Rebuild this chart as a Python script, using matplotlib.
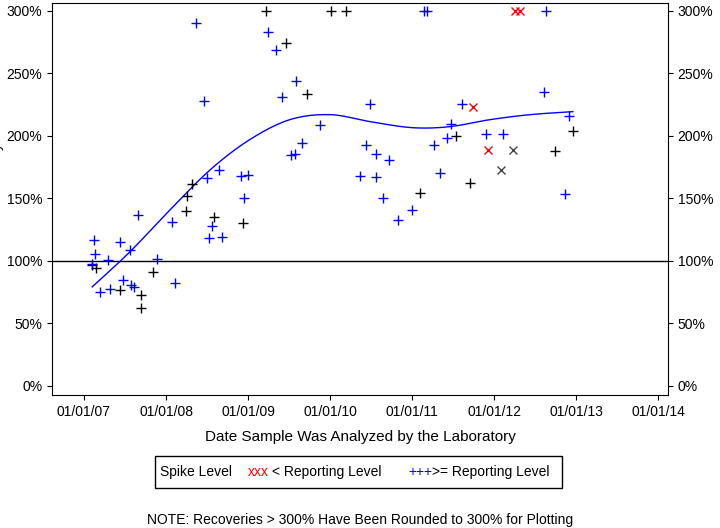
import matplotlib
matplotlib.use("Agg")
import matplotlib.pyplot as plt
from matplotlib.patches import Rectangle
import numpy as np
plt.rcParams['font.family'] = 'Liberation Sans'

blue_x = [2007.10,2007.12,2007.13,2007.20,2007.29,2007.32,2007.44,2007.48,2007.56,2007.57,2007.61,2007.66,2007.89,2008.11,2008.07,2008.37,2008.46,2008.50,2008.52,2008.56,2008.65,2008.68,2008.91,2008.95,2009.00,2009.24,2009.34,2009.41,2009.52,2009.57,2009.59,2009.66,2009.88,2010.37,2010.44,2010.49,2010.56,2010.56,2010.65,2010.72,2010.83,2011.00,2011.15,2011.18,2011.27,2011.34,2011.43,2011.48,2011.61,2011.90,2012.11,2012.63,2012.61,2012.87,2012.91]
blue_y = [97.6,116.8,105.6,75.2,100.8,77.6,115.2,84.8,108.8,80.8,79.2,136.8,101.6,82.4,131.2,290.4,228,166.4,118.4,128,172.8,119.2,168,150.4,168.8,283.2,268.8,231.2,184.8,185.6,244,194.4,208.8,168,192.8,225.6,185.6,167.2,150.4,180.8,132.8,140.8,300,300,192.8,170.4,198.4,209.6,225.6,201.6,201.6,300,235.2,153.6,216]
black_x = [2007.10,2007.15,2007.44,2007.70,2007.70,2007.84,2008.24,2008.26,2008.32,2008.59,2008.94,2009.22,2009.46,2009.72,2010.01,2010.20,2011.10,2011.54,2011.70,2012.74,2012.96]
black_y = [96.8,94.4,76.8,72.8,62.4,91.2,140,152,161.6,135.2,130.4,300,274.4,233.6,300,300,154.4,200,162.4,188,204]
red_x = [2011.74,2011.93,2012.26,2012.32]
red_y = [223.2,188.8,300,300]
blackx_x = [2012.09,2012.23]
blackx_y = [172.8,188.8]
fit_x = [2007.10,2007.56,2008.05,2008.54,2009.02,2009.51,2010.0,2010.49,2011.0,2011.46,2011.95,2012.44,2012.96]
fit_y = [79.2,107.2,140.8,172.8,196.8,212.8,216.8,211.2,206.4,207.2,212.8,216.8,219.2]
xticks = [2007,2008,2009,2010,2011,2012,2013,2014]
xlabels = ["01/01/07","01/01/08","01/01/09","01/01/10","01/01/11","01/01/12","01/01/13","01/01/14"]
yticks = [0,50,100,150,200,250,300]
ylabels = ["0%","50%","100%","150%","200%","250%","300%"]

fig = plt.figure(figsize=(7.2,5.28), dpi=100)
ax = fig.add_axes([52/720, 1-395/528, 616/720, 392/528])
ax.set_xlim(2006.61, 2014.12)
ax.set_ylim(-7.2, 306)
ax.axhline(100, color='black', lw=1)
fx = np.array(fit_x); fy = np.array(fit_y)
xs, ys = [], []
P = np.column_stack([fx, fy]); P = np.vstack([P[0], P, P[-1]])
for i in range(1, len(P)-2):
    p0,p1,p2,p3 = P[i-1],P[i],P[i+1],P[i+2]
    for t in np.linspace(0,1,12,endpoint=False):
        pt = 0.5*((2*p1)+(-p0+p2)*t+(2*p0-5*p1+4*p2-p3)*t**2+(-p0+3*p1-3*p2+p3)*t**3)
        xs.append(pt[0]); ys.append(pt[1])
xs.append(fx[-1]); ys.append(fy[-1])
ax.plot(xs, ys, color='blue', lw=1)
ax.plot(black_x, black_y, '+', color='black', ms=7, mew=1)
ax.plot(blue_x, blue_y, '+', color='blue', ms=7, mew=1)
ax.plot(blackx_x, blackx_y, 'x', color='#444444', ms=6, mew=1)
ax.plot(red_x, red_y, 'x', color='red', ms=6, mew=1)
ax.set_xticks(xticks); ax.set_xticklabels(xlabels, fontsize=10)
ax.set_yticks(yticks); ax.set_yticklabels(ylabels, fontsize=10)
ax.tick_params(right=True, labelright=True, direction='out')
ax.set_xlabel("Date Sample Was Analyzed by the Laboratory", fontsize=11, labelpad=8)
ax.set_ylabel("Percent Recovery", fontsize=10, labelpad=2)

fig.patches.append(Rectangle((155/720, 1-488/528), 407/720, 32/528, transform=fig.transFigure, fill=False, edgecolor='black', lw=1))
yl = 1-472/528
fig.text(160/720, yl, "Spike Level", fontsize=10, va='center')
fig.text(248/720, yl, "xxx", color='red', fontsize=10, va='center')
fig.text(272/720, yl, "< Reporting Level", fontsize=10, va='center')
fig.text(408/720, yl, "+++", color='blue', fontsize=10, va='center')
fig.text(432/720, yl, ">= Reporting Level", fontsize=10, va='center')
fig.text(360/720, 1-520/528, "NOTE: Recoveries > 300% Have Been Rounded to 300% for Plotting", fontsize=10, ha='center', va='center')
fig.savefig("out.png", dpi=100)
